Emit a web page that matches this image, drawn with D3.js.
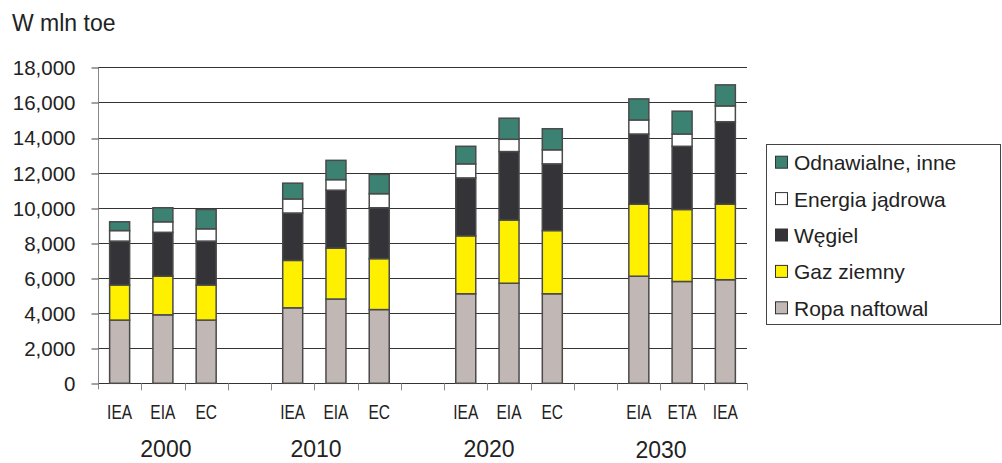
<!DOCTYPE html>
<html>
<head>
<meta charset="utf-8">
<script src="https://cdn.jsdelivr.net/npm/d3@7"></script>
<style>
  html, body { margin: 0; padding: 0; background: #fff; }
  svg { display: block; font-family: "Liberation Sans", Arial, Helvetica, sans-serif; }
</style>
</head>
<body>
<svg id="chart" width="1002" height="463"></svg>
<script>
// Forecast groups and the sources within each group
const years = ["2000", "2010", "2020", "2030"];
const sources = [
  ["IEA", "EIA", "EC"],
  ["IEA", "EIA", "EC"],
  ["IEA", "EIA", "EC"],
  ["EIA", "ETA", "IEA"]
];

// Energy carriers, bottom to top of each stack
const seriesNames = ["Ropa naftowal", "Gaz ziemny", "Węgiel", "Energia jądrowa", "Odnawialne, inne"];

// Values in mln toe, one per bar, in the order of the groups above
const ropa      = [3600, 3900, 3600, 4300, 4800, 4200, 5100, 5700, 5100, 6100, 5800, 5900];
const gaz       = [2000, 2200, 2000, 2700, 2900, 2900, 3300, 3600, 3600, 4100, 4100, 4300];
const wegiel    = [2500, 2500, 2500, 2700, 3300, 2900, 3300, 3900, 3800, 4000, 3600, 4700];
const jadrowa   = [ 600,  600,  700,  800,  600,  800,  800,  700,  800,  800,  700,  900];
const odnawialne= [ 500,  800, 1100,  900, 1100, 1100, 1000, 1200, 1200, 1200, 1300, 1200];

const yTicks = [0, 2000, 4000, 6000, 8000, 10000, 12000, 14000, 16000, 18000];

// ---- styling / layout ----
const colors = {
  "Ropa naftowal": "#c1b7b4",
  "Gaz ziemny": "#fff000",
  "Węgiel": "#343438",
  "Energia jądrowa": "#ffffff",
  "Odnawialne, inne": "#3b8272"
};
const textColor = "#222";
const plot = { left: 98, right: 747, top: 67.3, bottom: 383.3 };
const barWidth = 20;

const svg = d3.select("#chart");

// Build the slot list: three bars per group, a blank slot between groups
const slots = [];
const bars = [];
let k = 0;
years.forEach((yr, gi) => {
  sources[gi].forEach((src, si) => {
    const id = `b${k}`;
    slots.push(id);
    bars.push({ id, year: yr, source: src, idx: k, group: gi, pos: si });
    k++;
  });
  if (gi < years.length - 1) slots.push(`gap${gi}`);
});

const seriesData = [ropa, gaz, wegiel, jadrowa, odnawialne];
const table = bars.map(b => {
  const row = { id: b.id };
  seriesNames.forEach((name, si) => { row[name] = seriesData[si][b.idx]; });
  return row;
});

const x = d3.scaleBand().domain(slots).range([plot.left, plot.right]).padding(0);
const y = d3.scaleLinear().domain([0, 18000]).range([plot.bottom, plot.top]);

const stacked = d3.stack().keys(seriesNames)(table);

// Horizontal gridlines
svg.append("g")
  .selectAll("line")
  .data(yTicks)
  .join("line")
  .attr("x1", plot.left)
  .attr("x2", plot.right)
  .attr("y1", d => Math.round(y(d)) + 0.5)
  .attr("y2", d => Math.round(y(d)) + 0.5)
  .attr("stroke", "#333")
  .attr("stroke-width", 1);

// Y axis
const yAxis = svg.append("g")
  .attr("transform", `translate(${plot.left + 0.5},0)`)
  .call(d3.axisLeft(y).tickValues(yTicks).tickSize(7).tickPadding(16)
    .tickFormat(d3.format(",")));
yAxis.select(".domain").attr("stroke", "#888").attr("d", `M0,${plot.top}V${plot.bottom + 6}`);
yAxis.selectAll(".tick line").attr("stroke", "#444")
  .attr("transform", d => `translate(0,${Math.round(y(d)) + 0.5 - y(d)})`);
yAxis.selectAll(".tick text")
  .attr("fill", textColor)
  .style("font-size", "20.5px")
  .attr("dy", "0.36em");

// Tick marks on the category axis, at the slot boundaries
const boundaries = slots.slice(1).map(s => x(s));
boundaries.push(plot.right);
svg.append("g")
  .selectAll("line")
  .data(boundaries)
  .join("line")
  .attr("x1", d => Math.round(d) + 0.5)
  .attr("x2", d => Math.round(d) + 0.5)
  .attr("y1", plot.bottom)
  .attr("y2", plot.bottom + 7)
  .attr("stroke", "#888");

// Stacked bars
svg.append("g")
  .selectAll("g")
  .data(stacked)
  .join("g")
  .attr("fill", d => colors[d.key])
  .selectAll("rect")
  .data(d => d)
  .join("rect")
  .attr("x", d => x(d.data.id) + (x.bandwidth() - barWidth) / 2)
  .attr("width", barWidth)
  .attr("y", d => y(d[1]))
  .attr("height", d => y(d[0]) - y(d[1]))
  .attr("stroke", "#4a4a4a")
  .attr("stroke-width", 1.5);

// Source labels under each bar (condensed face)
svg.append("g")
  .selectAll("g")
  .data(bars)
  .join("g")
  .attr("transform", d => `translate(${x(d.id) + x.bandwidth() / 2},418.5) scale(0.74,1)`)
  .append("text")
  .attr("text-anchor", "middle")
  .attr("fill", textColor)
  .style("font-size", "21px")
  .text(d => d.source);

// Year labels under each group
const yearShift = [3, -20, -20, -21];
const yearDrop = [0, 0, 0, 1.5];
svg.append("g")
  .selectAll("text")
  .data(years)
  .join("text")
  .attr("x", (d, i) => x(bars[i * 3 + 1].id) + x.bandwidth() / 2 + yearShift[i])
  .attr("y", (d, i) => 456.5 + yearDrop[i])
  .attr("text-anchor", "middle")
  .attr("fill", textColor)
  .style("font-size", "23px")
  .text(d => d);

// Unit label
svg.append("text")
  .attr("x", 12)
  .attr("y", 31)
  .attr("fill", textColor)
  .style("font-size", "23px")
  .text("W mln toe");

// Legend (top entry is the top of the stack)
const legend = svg.append("g");
legend.append("rect")
  .attr("x", 766.5).attr("y", 144.5)
  .attr("width", 234).attr("height", 180)
  .attr("fill", "#fff")
  .attr("stroke", "#444")
  .attr("stroke-width", 1);

const legendItems = seriesNames.slice().reverse();
const item = legend.selectAll("g.item")
  .data(legendItems)
  .join("g")
  .attr("class", "item")
  .attr("transform", (d, i) => `translate(775,${162.7 + i * 36.4})`);
item.append("rect")
  .attr("x", 0.5).attr("y", -6.5)
  .attr("width", 12).attr("height", 12)
  .attr("fill", d => colors[d])
  .attr("stroke", "#333")
  .attr("stroke-width", 1);
item.append("text")
  .attr("x", 19)
  .attr("y", 0)
  .attr("dy", "0.36em")
  .attr("fill", textColor)
  .style("font-size", "21px")
  .text(d => d);
</script>
</body>
</html>
